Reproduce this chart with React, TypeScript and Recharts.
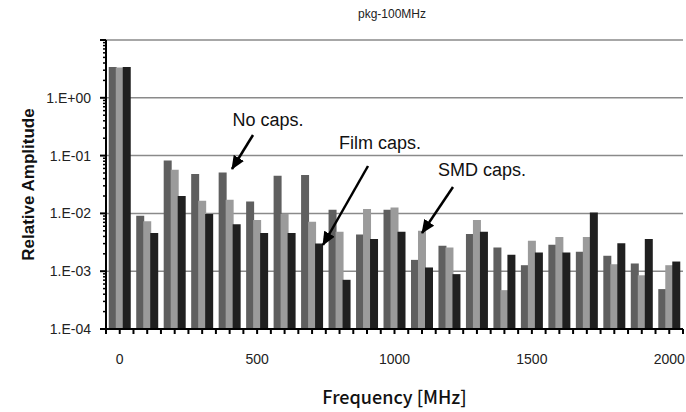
import React from "react";
import { BarChart, Bar, XAxis, YAxis, CartesianGrid } from "recharts";

const FREQS = [
  "0", "100", "200", "300", "400", "500", "600", "700", "800", "900", "1000",
  "1100", "1200", "1300", "1400", "1500", "1600", "1700", "1800", "1900", "2000",
];

const NO_CAPS = [
  3.4, 0.0091, 0.082, 0.048, 0.051, 0.0161, 0.045, 0.046, 0.0116, 0.0043, 0.0116,
  0.00157, 0.00275, 0.0044, 0.00257, 0.00127, 0.00286, 0.00216, 0.00185, 0.00136, 0.00049,
];
const FILM_CAPS = [
  3.35, 0.0073, 0.057, 0.0166, 0.0173, 0.0077, 0.0098, 0.0072, 0.0048, 0.0119, 0.0127,
  0.005, 0.00257, 0.0077, 0.00047, 0.00336, 0.0039, 0.0039, 0.00132, 0.00085, 0.00127,
];
const SMD_CAPS = [
  3.4, 0.0046, 0.02, 0.0098, 0.0065, 0.0046, 0.0046, 0.003, 0.00071, 0.0036, 0.0048,
  0.00116, 0.00089, 0.0048, 0.00192, 0.0021, 0.0021, 0.0104, 0.00306, 0.0036, 0.00147,
];

const Y_MAJOR = [1e-4, 1e-3, 1e-2, 1e-1, 1, 10];
const Y_LABELS = ["1.E-04", "1.E-03", "1.E-02", "1.E-01", "1.E+00", ""];
const X_LABELED = ["0", "500", "1000", "1500", "2000"];

// log minor ticks (2..9 in each decade)
const Y_MINOR: number[] = [];
for (let e = -4; e <= 0; e++) {
  for (let m = 2; m <= 9; m++) Y_MINOR.push(m * Math.pow(10, e));
}
const Y_TICKS = [...Y_MAJOR, ...Y_MINOR];

const data = FREQS.map((f, i) => ({
  freq: f,
  noCaps: NO_CAPS[i],
  film: FILM_CAPS[i],
  smd: SMD_CAPS[i],
}));

const W = 686;
const H = 412;
const LEFT = 106;
const RIGHT = 3;
const BAND = (W - LEFT - RIGHT) / FREQS.length;
const FONT = "'Liberation Sans', Arial, sans-serif";

function YTick(props: any) {
  const { x, y, payload } = props;
  const idx = Y_MAJOR.indexOf(payload.value);
  const major = idx >= 0;
  return (
    <g>
      <line x1={x - (major ? 6 : 3)} x2={x} y1={y} y2={y} stroke="#000" strokeWidth={major ? 2 : 1.5} />
      {major && Y_LABELS[idx] ? (
        <text x={x - 15} y={y + 5} textAnchor="end" fontSize={14} fill="#222" fontFamily={FONT}>
          {Y_LABELS[idx]}
        </text>
      ) : null}
    </g>
  );
}

function XTick(props: any) {
  const { x, y, payload, index } = props;
  const last = index === FREQS.length - 1;
  return (
    <g>
      <line x1={x - BAND / 2} x2={x - BAND / 2} y1={y} y2={y + 5} stroke="#000" strokeWidth={2} />
      <line x1={x} x2={x} y1={y} y2={y + 5} stroke="#000" strokeWidth={2} />
      {last ? <line x1={x + BAND / 2} x2={x + BAND / 2} y1={y} y2={y + 5} stroke="#000" strokeWidth={2} /> : null}
      {X_LABELED.includes(payload.value) ? (
        <text x={x} y={y + 35} textAnchor="middle" fontSize={14} fill="#222" fontFamily={FONT}>
          {payload.value}
        </text>
      ) : null}
    </g>
  );
}

const NOTES = [
  { text: "No caps.", tx: 268, ty: 126, x1: 253, y1: 135, x2: 232, y2: 169 },
  { text: "Film caps.", tx: 380, ty: 149, x1: 368, y1: 166, x2: 323, y2: 245 },
  { text: "SMD caps.", tx: 482, ty: 176, x1: 453, y1: 187, x2: 422, y2: 233 },
];

export default function App() {
  return (
    <div style={{ position: "absolute", left: 0, top: 0, width: W, height: H, background: "#fff" }}>
      <BarChart
        width={W}
        height={H}
        data={data}
        margin={{ top: 40, right: RIGHT, bottom: 0, left: 0 }}
        barCategoryGap="10%"
        barGap={-1}
      >
        <CartesianGrid vertical={false} horizontalValues={[10, 1, 0.1, 0.01, 0.001]} stroke="#8a8a8a" strokeWidth={1.5} />
        <XAxis
          dataKey="freq"
          interval={0}
          height={83}
          tickSize={0}
          tickMargin={0}
          tickLine={false}
          axisLine={{ stroke: "#000", strokeWidth: 2 }}
          tick={<XTick />}
          label={{
            value: "Frequency [MHz]",
            position: "insideBottom",
            offset: 8,
            style: { fontSize: 18, fontWeight: 500, fill: "#111", fontFamily: "'Noto Sans CJK JP', 'Noto Sans', sans-serif" },
          }}
        />
        <YAxis
          type="number"
          scale="log"
          domain={[1e-4, 10]}
          allowDataOverflow
          ticks={Y_TICKS}
          interval={0}
          width={LEFT}
          tickSize={0}
          tickMargin={0}
          tickLine={false}
          axisLine={{ stroke: "#000", strokeWidth: 2 }}
          tick={<YTick />}
          label={{
            value: "Relative Amplitude",
            angle: -90,
            position: "insideLeft",
            offset: 28,
            style: { textAnchor: "middle", fontSize: 17, fontWeight: "bold", fill: "#111", fontFamily: FONT },
          }}
        />
        <YAxis
          yAxisId="r"
          orientation="right"
          width={0}
          type="number"
          domain={[0, 1]}
          tick={false}
          tickLine={false}
          axisLine={{ stroke: "#777", strokeWidth: 1.5 }}
        />
        <Bar dataKey="noCaps" fill="#5f5f5f" isAnimationActive={false} />
        <Bar dataKey="film" fill="#9b9b9b" isAnimationActive={false} />
        <Bar dataKey="smd" fill="#202020" isAnimationActive={false} />
      </BarChart>
      <svg width={W} height={H} style={{ position: "absolute", left: 0, top: 0, pointerEvents: "none" }}>
        <defs>
          <marker id="arrow" markerUnits="userSpaceOnUse" markerWidth={14} markerHeight={12} refX={13} refY={6} orient="auto">
            <path d="M0,0 L14,6 L0,12 Z" fill="#000" />
          </marker>
        </defs>
        <text x={392} y={18} textAnchor="middle" fontSize={12} fill="#222" fontFamily={FONT}>
          pkg-100MHz
        </text>
        {NOTES.map((n) => (
          <g key={n.text}>
            <text x={n.tx} y={n.ty} textAnchor="middle" fontSize={18} fill="#111" fontFamily={FONT}>
              {n.text}
            </text>
            <line x1={n.x1} y1={n.y1} x2={n.x2} y2={n.y2} stroke="#000" strokeWidth={2.5} markerEnd="url(#arrow)" />
          </g>
        ))}
      </svg>
    </div>
  );
}
